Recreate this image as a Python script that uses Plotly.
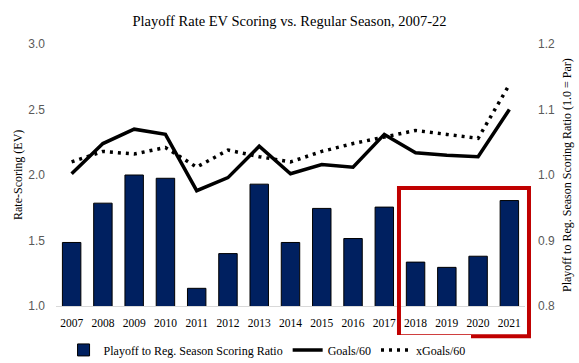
import plotly.graph_objects as go

years = [str(y) for y in range(2007, 2022)]
ratio = [0.897, 0.957, 1.000, 0.995, 0.827, 0.880, 0.986, 0.897, 0.949, 0.903, 0.951, 0.867, 0.859, 0.876, 0.961]
goals60 = [2.01, 2.24, 2.35, 2.31, 1.88, 1.98, 2.22, 2.01, 2.08, 2.06, 2.31, 2.17, 2.15, 2.14, 2.50]
xgoals60 = [2.10, 2.18, 2.16, 2.21, 2.06, 2.19, 2.14, 2.10, 2.18, 2.24, 2.29, 2.34, 2.31, 2.28, 2.69]

serif = "Liberation Serif"
sans = "Liberation Sans"

fig = go.Figure()
fig.add_trace(go.Bar(
    x=years, y=ratio, name="Playoff to Reg. Season Scoring Ratio",
    marker=dict(color="#002060", line=dict(color="black", width=1)),
    width=0.59, yaxis="y"))
fig.add_trace(go.Scatter(
    x=years, y=goals60, name="Goals/60", mode="lines",
    line=dict(color="black", width=3.5), yaxis="y2"))
fig.add_trace(go.Scatter(
    x=years, y=xgoals60, name="xGoals/60", mode="lines",
    line=dict(color="black", width=3.5, dash="3px,5px"), yaxis="y2"))

fig.update_layout(
    width=579, height=363,
    margin=dict(l=56, r=54, t=44, b=57, autoexpand=False),
    paper_bgcolor="white", plot_bgcolor="white",
    title=dict(text="Playoff Rate EV Scoring vs. Regular Season, 2007-22",
               x=0.5, xanchor="center", y=0.943, yanchor="middle",
               font=dict(family=serif, size=14.5, color="black")),
    xaxis=dict(type="category", showgrid=False, showline=True, linecolor="#D9D9D9",
               linewidth=1, ticks="", tickfont=dict(family=serif, size=11.5, color="black"),
               range=[-0.5, 14.5], automargin=False, ticklabelstandoff=6),
    yaxis=dict(side="right", range=[0.8, 1.2], dtick=0.1, tickformat=".1f",
               showgrid=False, zeroline=False, showline=False, ticks="",
               tickfont=dict(family=sans, size=12, color="#595959"), automargin=False,
               ticklabelstandoff=12),
    yaxis2=dict(side="left", overlaying="y", range=[1.0, 3.0], dtick=0.5, tickformat=".1f",
                showgrid=False, zeroline=False, showline=False, ticks="",
                tickfont=dict(family=sans, size=12, color="#595959"), automargin=False,
                ticklabelstandoff=10),
    legend=dict(orientation="h", x=0.45, xanchor="center", yref="container",
                y=0.036, yanchor="middle",
                font=dict(family=serif, size=12, color="black"), traceorder="normal",
                itemwidth=30),
    showlegend=True,
    annotations=[
        dict(text="Rate-Scoring (EV)", textangle=-90, xref="paper", yref="paper",
             x=-0.081, y=0.5, xanchor="center", yanchor="middle", showarrow=False,
             font=dict(family=serif, size=12, color="black")),
        dict(text="Playoff to Reg. Season Scoring Ratio (1.0 = Par)", textangle=-90,
             xref="paper", yref="paper", x=1.0896, y=0.5, xanchor="center",
             yanchor="middle", showarrow=False,
             font=dict(family=serif, size=12, color="black")),
    ],
)

fig.add_shape(type="rect", xref="paper", yref="paper", x0=0.7313, x1=1.0085, y0=-0.115, y1=0.45,
              line=dict(color="#C00000", width=4), fillcolor="rgba(0,0,0,0)", layer="above")

fig.write_html("out.html", config={"displayModeBar": False},
               post_script="document.body.style.margin='0';")
